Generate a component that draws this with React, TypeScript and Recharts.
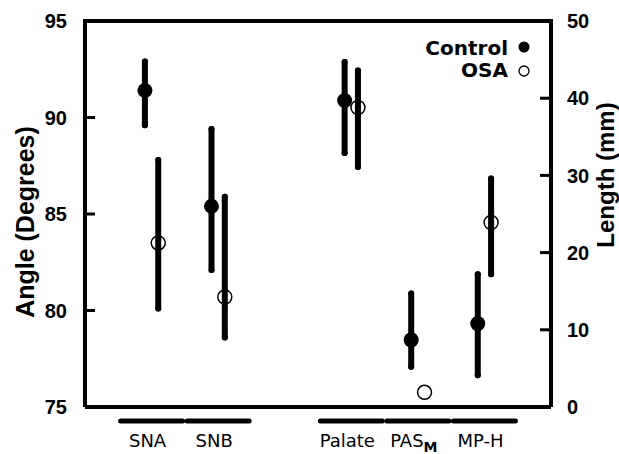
import React from "react";
import { ScatterChart, Scatter, XAxis, YAxis, ErrorBar, Legend } from "recharts";

// slot 3 on the x axis is an empty gap between the angle and length groups
const categories = ["SNA", "SNB", "", "Palate", "PAS_M", "MP-H"];
const angleMeasures = ["SNA", "SNB"];
const lengthMeasures = ["Palate", "PAS_M", "MP-H"];

const slotTicks = [1, 2, 4, 5, 6];
const angleTicks = [75, 80, 85, 90, 95];
const lengthTicks = [0, 10, 20, 30, 40, 50];

// angle (degrees)
const angleControlMean = [91.4, 85.4];
const angleControlLow = [89.6, 82.1];
const angleControlHigh = [92.9, 89.4];
const angleOsaMean = [83.5, 80.7];
const angleOsaLow = [80.1, 78.6];
const angleOsaHigh = [87.8, 85.9];

// length (mm)
const lengthControlMean = [39.7, 8.7, 10.8];
const lengthControlLow = [32.9, 5.2, 4.1];
const lengthControlHigh = [44.7, 14.7, 17.2];
const lengthOsaMean = [38.8, 1.9, 23.9];
const lengthOsaLow = [31.1, null, 17.2];
const lengthOsaHigh = [43.6, null, 29.6];

const build = (
  names: string[],
  mean: number[],
  low: (number | null)[],
  high: (number | null)[],
  shift: number
) =>
  names.map((name, i) => ({
    name,
    x: categories.indexOf(name) + 1 + shift,
    y: mean[i],
    err:
      low[i] == null || high[i] == null
        ? undefined
        : [mean[i] - (low[i] as number), (high[i] as number) - mean[i]],
  }));

const angleControl = build(angleMeasures, angleControlMean, angleControlLow, angleControlHigh, -0.1);
const angleOsa = build(angleMeasures, angleOsaMean, angleOsaLow, angleOsaHigh, 0.1);
const lengthControl = build(lengthMeasures, lengthControlMean, lengthControlLow, lengthControlHigh, -0.1);
const lengthOsa = build(lengthMeasures, lengthOsaMean, lengthOsaLow, lengthOsaHigh, 0.1);

const numFont = "'Liberation Sans', Arial, Helvetica, sans-serif";
const catFont = "'DejaVu Sans', 'Lucida Grande', sans-serif";

const tickStyle = { fill: "#000", fontSize: 20, fontWeight: 700, fontFamily: numFont };
const axisLine = { stroke: "#000", strokeWidth: 4 };
const tickLine = { stroke: "#000", strokeWidth: 3 };

const CategoryTick = (props: any) => {
  const { x, payload } = props;
  const name = categories[Math.round(payload.value) - 1];
  const lineY = 421;
  return (
    <g>
      <line x1={x - 31} x2={x + 31} y1={lineY} y2={lineY} stroke="#000" strokeWidth={5} strokeLinecap="round" />
      <text x={x - 4} y={447} textAnchor="middle" fill="#000" fontSize={18} fontFamily={catFont}>
        {name === "PAS_M" ? (
          <>
            PAS
            <tspan dy={5} fontSize={14} fontWeight={700}>
              M
            </tspan>
          </>
        ) : (
          name
        )}
      </text>
    </g>
  );
};

const FilledDot = (props: any) => <circle cx={props.cx} cy={props.cy} r={7.5} fill="#000" />;
const OpenDot = (props: any) => (
  <circle cx={props.cx} cy={props.cy} r={7} fill="none" stroke="#000" strokeWidth={1.5} />
);

const LegendBox = () => (
  <div style={{ fontFamily: "'DejaVu Sans', sans-serif", fontWeight: 700, fontSize: 20, color: "#000" }}>
    {[
      { label: "Control", filled: true },
      { label: "OSA", filled: false },
    ].map((r) => (
      <div key={r.label} style={{ display: "flex", justifyContent: "flex-end", alignItems: "center", height: 22 }}>
        <span style={{ lineHeight: "22px" }}>{r.label}</span>
        <svg width={22} height={16} style={{ marginLeft: 2 }}>
          {r.filled ? (
            <circle cx={14} cy={7} r={5.5} fill="#000" />
          ) : (
            <circle cx={14} cy={9} r={5} fill="none" stroke="#000" strokeWidth={1.3} />
          )}
        </svg>
      </div>
    ))}
  </div>
);

// left axis title, plus the top edge of the plot frame drawn from the axis viewBox
const AngleLabel = (props: any) => {
  const vb = props.viewBox || { x: 25, y: 21, width: 60, height: 386 };
  const left = vb.x + vb.width;
  return (
    <g>
      <line x1={left - 2} x2={left + 468} y1={vb.y} y2={vb.y} stroke="#000" strokeWidth={4} />
      <text x={25} y={222} transform="rotate(-90 25 222)" textAnchor="middle" dominantBaseline="central" fill="#000" fontSize={25} fontWeight={700} fontFamily={numFont}>
        Angle (Degrees)
      </text>
    </g>
  );
};

const errProps = { dataKey: "err", direction: "y" as const, width: 0, stroke: "#000", strokeWidth: 6, strokeLinecap: "round" as const };

export default function App() {
  return (
    <div style={{ position: "absolute", left: 0, top: 0, width: 619, height: 454, background: "#fff" }}>
      <ScatterChart width={619} height={454} margin={{ top: 21, right: 8, bottom: 7, left: 25 }}>
        <XAxis
          type="number"
          dataKey="x"
          domain={[0, 7]}
          ticks={slotTicks}
          height={40}
          axisLine={axisLine}
          tickLine={false}
          tick={<CategoryTick />}
          interval={0}
          allowDataOverflow
        />
        <YAxis
          yAxisId="angle"
          type="number"
          dataKey="y"
          domain={[75, 95]}
          ticks={angleTicks}
          width={60}
          axisLine={axisLine}
          tickLine={tickLine}
          tickSize={-10}
          tickMargin={28}
          tick={tickStyle}
          interval={0}
          allowDataOverflow
          label={(p: any) => <AngleLabel {...p} />}
        />
        <YAxis
          yAxisId="length"
          orientation="right"
          type="number"
          dataKey="y"
          domain={[0, 50]}
          ticks={lengthTicks}
          width={60}
          axisLine={axisLine}
          tickLine={tickLine}
          tickSize={-11}
          tickMargin={27}
          tick={tickStyle}
          interval={0}
          allowDataOverflow
          label={() => (
            <text x={605} y={175} transform="rotate(-90 605 175)" textAnchor="middle" dominantBaseline="central" fill="#000" fontSize={24} fontWeight={700} fontFamily={numFont}>
              Length (mm)
            </text>
          )}
        />
        <Legend
          layout="horizontal"
          verticalAlign="middle"
          align="center"
          content={<LegendBox />}
          wrapperStyle={{ position: "absolute", top: 37, left: 372, width: 160 }}
        />
        <Scatter name="Control" data={angleControl} yAxisId="angle" shape={<FilledDot />} isAnimationActive={false}>
          <ErrorBar {...errProps} />
        </Scatter>
        <Scatter name="OSA" data={angleOsa} yAxisId="angle" shape={<OpenDot />} isAnimationActive={false}>
          <ErrorBar {...errProps} />
        </Scatter>
        <Scatter name="Control" data={lengthControl} yAxisId="length" shape={<FilledDot />} isAnimationActive={false}>
          <ErrorBar {...errProps} />
        </Scatter>
        <Scatter name="OSA" data={lengthOsa} yAxisId="length" shape={<OpenDot />} isAnimationActive={false}>
          <ErrorBar {...errProps} />
        </Scatter>
      </ScatterChart>
      <div style={{ position: "absolute", left: 83, top: 19, width: 470, height: 4, background: "#000", zIndex: 10 }} />
    </div>
  );
}
